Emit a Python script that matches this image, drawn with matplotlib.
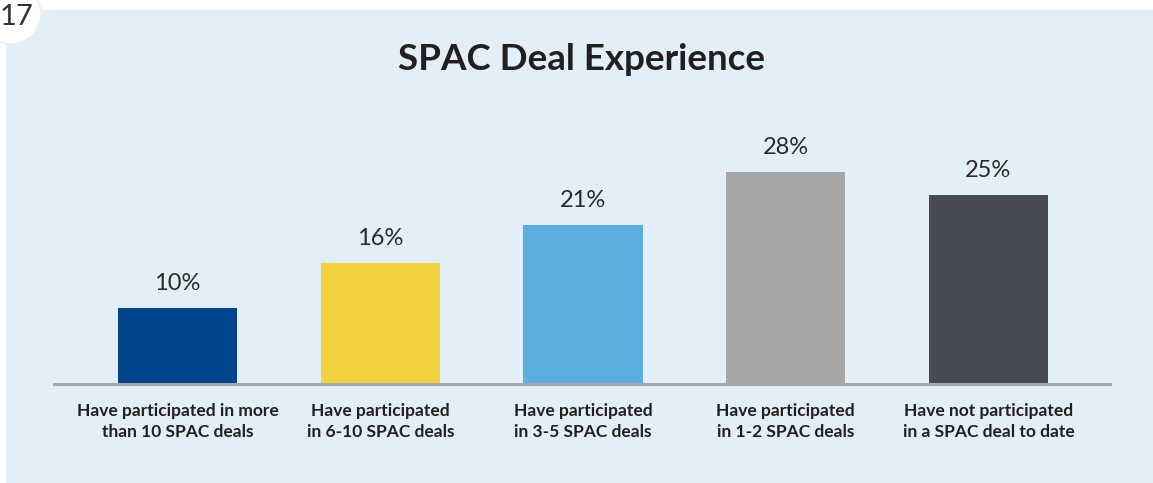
import matplotlib
matplotlib.use('Agg')
import matplotlib.pyplot as plt
from matplotlib.patches import Rectangle, Ellipse

# Data
categories = [
    "Have participated in more\nthan 10 SPAC deals",
    "Have participated\nin 6-10 SPAC deals",
    "Have participated\nin 3-5 SPAC deals",
    "Have participated\nin 1-2 SPAC deals",
    "Have not participated\nin a SPAC deal to date",
]
values = [10, 16, 21, 28, 25]
value_labels = ["10%", "16%", "21%", "28%", "25%"]
bar_colors = ["#00458b", "#f0d240", "#5daee0", "#a6a6a6", "#474a53"]

plt.rcParams['font.family'] = ['Lato', 'DejaVu Sans']

W, H = 1153, 483
fig = plt.figure(figsize=(W / 100, H / 100), dpi=100)
fig.patch.set_facecolor('white')

# light blue panel
fig.patches.append(Rectangle((6 / W, 0), 1 - 6 / W, (H - 10) / H, transform=fig.transFigure,
                             facecolor='#e2eef8', edgecolor='none', zorder=0))
# page number badge
fig.patches.append(Ellipse((11 / W, 1 - 14 / H), 60 / W, 60 / H, transform=fig.transFigure,
                           facecolor='white', edgecolor='#e6eef6', linewidth=1, zorder=1))
fig.text(16 / W, 1 - 17 / H, "17", fontsize=21, color='#333333', ha='center', va='center',
         zorder=2)

fig.text(582 / W, 1 - 60 / H, "SPAC Deal Experience", fontsize=26.5, fontweight='bold',
         color='#231f20', ha='center', va='center')

ax_left, ax_right = 54 / W, 1110 / W
ax_bottom = (H - 384) / H
ax_top = (H - 100) / H
ax = fig.add_axes([ax_left, ax_bottom, ax_right - ax_left, ax_top - ax_bottom])
ax.set_zorder(3)
ax.patch.set_alpha(0)

x = list(range(len(values)))
bars = ax.bar(x, values, width=0.59, color=bar_colors, zorder=2)
ax.set_xlim(-0.61, 4.6)
ax.set_ylim(0, 284 / 7.57)

for b, lab in zip(bars, value_labels):
    ax.annotate(lab, (b.get_x() + b.get_width() / 2, b.get_height()),
                xytext=(0, 10), textcoords='offset points', ha='center', va='bottom',
                fontsize=17, color='#2a2a2a')

for xi, cat in zip(x, categories):
    ax.annotate(cat, (xi, 0), xytext=(0, -14), textcoords='offset points',
                ha='center', va='top', fontsize=12.5, fontweight='bold',
                color='#231f20', linespacing=1.35)

for s in ['top', 'right', 'left']:
    ax.spines[s].set_visible(False)
ax.spines['bottom'].set_color('#a8a8a8')
ax.spines['bottom'].set_linewidth(2.2)
ax.spines['bottom'].set_zorder(3)
ax.set_xticks([])
ax.set_yticks([])

fig.savefig('out.png', dpi=100, facecolor=fig.get_facecolor())
